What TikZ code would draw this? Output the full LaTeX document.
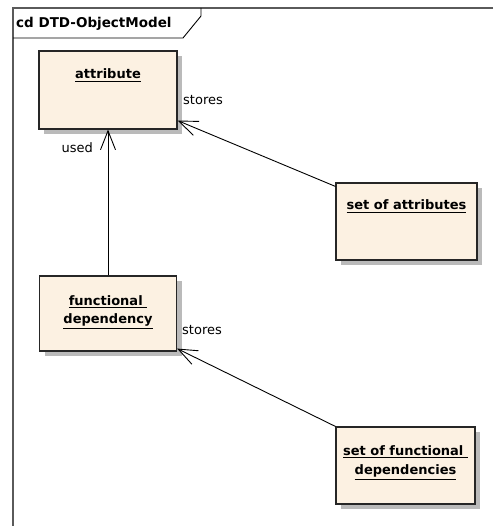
\documentclass[tikz,border=0pt]{standalone}
\usepackage{fontspec}
\setmainfont{DejaVu Sans}
\usetikzlibrary{arrows.meta,shadows}
\definecolor{boxfill}{RGB}{252,241,226}
\definecolor{framegray}{RGB}{90,90,90}
\newcommand\myul[1]{\setbox0\hbox{#1}\leavevmode\rlap{\vrule width\wd0 height -\dimexpr\dp0+2pt\relax depth \dimexpr\dp0+3.1pt\relax}\box0}
\begin{document}
\begin{tikzpicture}[x=1pt,y=-1pt,
  umlbox/.style={draw=black!85,line width=1.1pt,fill=boxfill,inner sep=0pt,
    drop shadow={shadow xshift=5pt,shadow yshift=-5pt,fill=black!27,opacity=1}},
  eltext/.style={font=\fontsize{13}{15}\selectfont\bfseries,inner sep=0pt,anchor=base},
  lbl/.style={font=\fontsize{13}{15}\selectfont,inner sep=0pt},
  nav/.style={-{Straight Barb[length=19pt,width=15pt]},line width=0.9pt}]
\useasboundingbox (0,0) rectangle (493,526);
% frame
\draw[framegray,line width=2pt] (493,8) -- (13,8) -- (13,526);
\draw[line width=0.9pt] (13,38) -- (183,38) -- (201,16) -- (201,8);
\node[font=\fontsize{13.5}{15}\selectfont\bfseries,inner sep=0pt,anchor=base west] (title) at (16,28) {cd DTD-ObjectModel};
% boxes
\node[umlbox,minimum width=138pt,minimum height=78pt] (attr) at (108,90) {};
\node[eltext] (attrT) at (108,79) {\myul{attribute}};
\node[umlbox,minimum width=141pt,minimum height=77pt] (sa) at (406.5,221.5) {};
\node[eltext] (saT) at (406.5,210) {\myul{set of attributes}};
\node[umlbox,minimum width=137pt,minimum height=75pt] (fd) at (108,313.5) {};
\node[eltext] (fdT1) at (108,305) {\myul{functional\ }};
\node[eltext] (fdT2) at (108,323) {\myul{dependency}};
\node[umlbox,minimum width=139pt,minimum height=77pt] (sfd) at (405.5,465.5) {};
\node[eltext] (sfdT1) at (405.5,455) {\myul{set of functional\ }};
\node[eltext] (sfdT2) at (405.5,474) {\myul{dependencies}};
% connectors
\draw[nav] (fd.north) -- (attr.south);
\draw[nav] ([yshift=-4pt]sa.north west) -- ([yshift=9pt]attr.south east);
\draw[nav] (sfd.north west) -- ([yshift=3pt]fd.south east);
% labels
\node[lbl,anchor=base west] (st1) at (183,105) {stores};
\node[lbl,anchor=base east] (used) at (93,153) {used};
\node[lbl,anchor=base west] (st2) at (182,334) {stores};
\end{tikzpicture}
\end{document}
